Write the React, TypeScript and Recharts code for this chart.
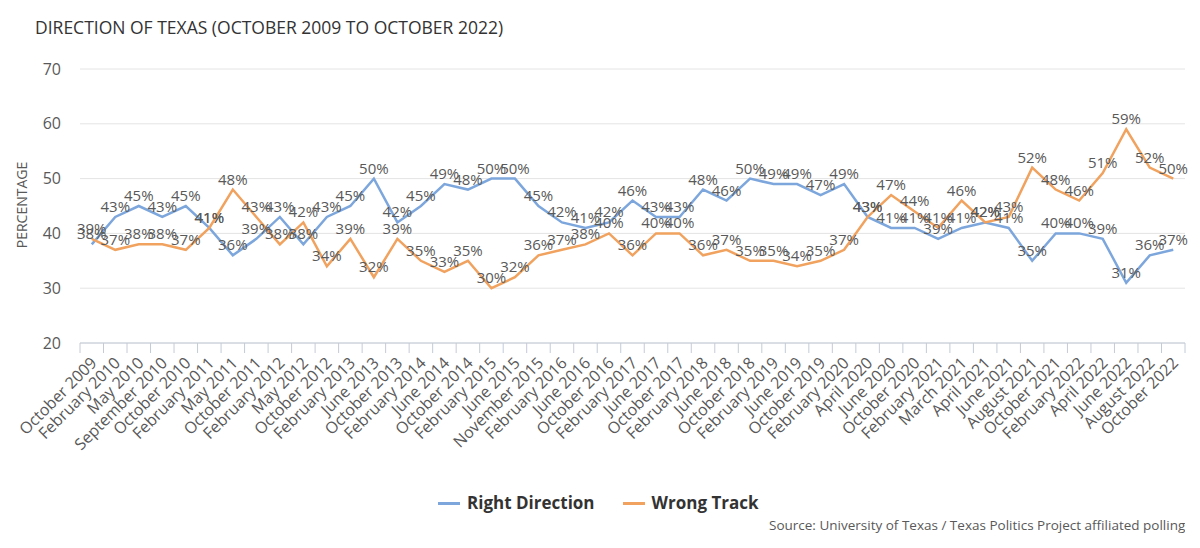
import React from 'react';
import { LineChart, Line, XAxis, YAxis, CartesianGrid, LabelList } from 'recharts';

// Poll dates (categories)
const surveyDates = [
  'October 2009', 'February 2010', 'May 2010', 'September 2010', 'October 2010',
  'February 2011', 'May 2011', 'October 2011', 'February 2012', 'May 2012',
  'October 2012', 'February 2013', 'June 2013', 'October 2013', 'February 2014',
  'June 2014', 'October 2014', 'February 2015', 'June 2015', 'November 2015',
  'February 2016', 'June 2016', 'October 2016', 'February 2017', 'June 2017',
  'October 2017', 'February 2018', 'June 2018', 'October 2018', 'February 2019',
  'June 2019', 'October 2019', 'February 2020', 'April 2020', 'June 2020',
  'October 2020', 'February 2021', 'March 2021', 'April 2021', 'June 2021',
  'August 2021', 'October 2021', 'February 2022', 'April 2022', 'June 2022',
  'August 2022', 'October 2022',
];

const rightDirection = [
  38, 43, 45, 43, 45, 41, 36, 39, 43, 38,
  43, 45, 50, 42, 45, 49, 48, 50, 50, 45,
  42, 41, 42, 46, 43, 43, 48, 46, 50, 49,
  49, 47, 49, 43, 41, 41, 39, 41, 42, 41,
  35, 40, 40, 39, 31, 36, 37,
];

const wrongTrack = [
  39, 37, 38, 38, 37, 41, 48, 43, 38, 42,
  34, 39, 32, 39, 35, 33, 35, 30, 32, 36,
  37, 38, 40, 36, 40, 40, 36, 37, 35, 35,
  34, 35, 37, 43, 47, 44, 41, 46, 42, 43,
  52, 48, 46, 51, 59, 52, 50,
];

const yTicks = [20, 30, 40, 50, 60, 70];

const seriesNames = ['Right Direction', 'Wrong Track'];
const seriesColors = ['#7DA7DC', '#F0A25E'];

const data = surveyDates.map((date, i) => ({
  idx: i,
  date,
  right: rightDirection[i],
  wrong: wrongTrack[i],
}));

const lastIdx = surveyDates.length - 1;
const boundaryTicks = Array.from({ length: surveyDates.length + 1 }, (_, i) => i - 0.5);
const centerTicks = surveyDates.map((_, i) => i);

const FONT = '"Open Sans", sans-serif';
const GREY = '#595959';

const EmptyTick = () => <g />;

const DateTick = ({ x, y, payload }: any) => (
  <g transform={`translate(${x + 2},${y + 7})`}>
    <text
      x={0}
      y={0}
      dy="0.35em"
      textAnchor="end"
      transform="rotate(-45)"
      fill={GREY}
      fontSize={16}
      fontFamily={FONT}
    >
      {surveyDates[payload.value]}
    </text>
  </g>
);

export default function App() {
  return (
    <div style={{ position: 'relative', width: 1200, height: 548, background: '#fff', fontFamily: FONT, overflow: 'hidden' }}>
      <style>{'body{margin:0}'}</style>
      <div style={{ position: 'absolute', left: 35, top: 19, fontSize: 17.5, lineHeight: 1, color: '#333' }}>
        DIRECTION OF TEXAS (OCTOBER 2009 TO OCTOBER 2022)
      </div>
      <div
        style={{
          position: 'absolute', left: 22, top: 205, transform: 'translate(-50%,-50%) rotate(-90deg)',
          fontSize: 14, color: GREY, whiteSpace: 'nowrap', lineHeight: 1,
        }}
      >
        PERCENTAGE
      </div>

      <LineChart
        width={1200}
        height={548}
        data={data}
        margin={{ top: 69, right: 15, bottom: 55, left: 0 }}
      >
        <CartesianGrid horizontal vertical={false} stroke="#E4E4E4" />
        <XAxis
          xAxisId="a"
          dataKey="idx"
          type="number"
          domain={[-0.5, lastIdx + 0.5]}
          allowDataOverflow
          ticks={boundaryTicks}
          interval={0}
          tick={<EmptyTick />}
          tickSize={10}
          height={10}
          stroke="#C3CBD8"
        />
        <XAxis
          xAxisId="b"
          dataKey="idx"
          type="number"
          domain={[-0.5, lastIdx + 0.5]}
          allowDataOverflow
          ticks={centerTicks}
          interval={0}
          axisLine={false}
          tickLine={false}
          tickSize={0}
          tickMargin={0}
          height={140}
          tick={<DateTick />}
        />
        <YAxis
          domain={[20, 70]}
          ticks={yTicks}
          width={80}
          axisLine={false}
          tickLine={false}
          tickMargin={13}
          tick={{ fill: GREY, fontSize: 16, fontFamily: FONT }}
        />
        <Line
          xAxisId="a"
          dataKey="right"
          name={seriesNames[0]}
          stroke={seriesColors[0]}
          strokeWidth={2.5}
          dot={false}
          isAnimationActive={false}
        >
          <LabelList dataKey="right" position="top" formatter={(v: any) => `${v}%`} fill={GREY} fontSize={15} fontFamily={FONT} />
        </Line>
        <Line
          xAxisId="b"
          dataKey="wrong"
          name={seriesNames[1]}
          stroke={seriesColors[1]}
          strokeWidth={2.5}
          dot={false}
          isAnimationActive={false}
        >
          <LabelList dataKey="wrong" position="top" formatter={(v: any) => `${v}%`} fill={GREY} fontSize={15} fontFamily={FONT} />
        </Line>
      </LineChart>

      <div style={{ position: 'absolute', left: 438, top: 492, display: 'flex', alignItems: 'center', fontWeight: 700, fontSize: 17, color: '#333', lineHeight: '22px' }}>
        {seriesNames.map((name, i) => (
          <div key={name} style={{ display: 'flex', alignItems: 'center', marginRight: i === 0 ? 28 : 0 }}>
            <span style={{ display: 'inline-block', width: 22, height: 3, background: seriesColors[i], marginRight: 7 }} />
            <span>{name}</span>
          </div>
        ))}
      </div>

      <div style={{ position: 'absolute', left: 769, top: 516, height: 17, overflow: 'hidden', fontSize: 13.5, color: GREY, lineHeight: '19px', whiteSpace: 'nowrap' }}>
        Source: University of Texas / Texas Politics Project affiliated polling
      </div>
    </div>
  );
}
